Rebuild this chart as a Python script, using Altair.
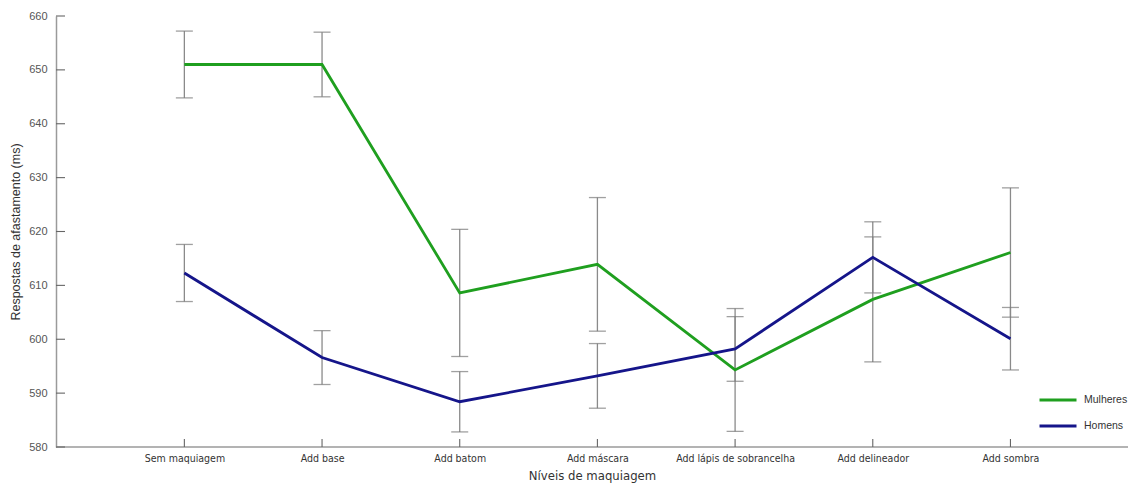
import altair as alt
import pandas as pd

categories = ["Sem maquiagem", "Add base", "Add batom", "Add máscara",
              "Add lápis de sobrancelha", "Add delineador", "Add sombra"]
series = ["Mulheres", "Homens"]
mulheres_mean = [651.0, 651.0, 608.6, 613.9, 594.3, 607.4, 616.1]
mulheres_err = [6.2, 6.0, 11.8, 12.4, 11.4, 11.6, 12.0]
homens_mean = [612.3, 596.6, 588.4, 593.2, 598.2, 615.2, 600.1]
homens_err = [5.3, 5.0, 5.6, 6.0, 6.0, 6.6, 5.8]
y_ticks = [580, 590, 600, 610, 620, 630, 640, 650, 660]

rows = []
for name, means, errs in [("Mulheres", mulheres_mean, mulheres_err),
                          ("Homens", homens_mean, homens_err)]:
    for c, m, e in zip(categories, means, errs):
        rows.append({"cat": c, "serie": name, "mean": m, "lo": m - e, "hi": m + e})
df = pd.DataFrame(rows)
tick_df = pd.DataFrame({"v": y_ticks})
cat_df = pd.DataFrame({"cat": categories})

W, H = 1072, 431
FONT = "Liberation Sans, Arial, sans-serif"
NARROW = "'DejaVu Sans Condensed', 'Liberation Sans Narrow', 'Liberation Sans', sans-serif"

xscale = alt.Scale(type="point", domain=categories, padding=0.893, align=0.522)
yscale = alt.Scale(domain=[580, 660], nice=False, zero=False)

x_axis = alt.Axis(labelAngle=0, ticks=False, domain=False,
                  labelFont=NARROW, labelFontSize=10.5, labelColor="#333",
                  labelPadding=6, title="Níveis de maquiagem", titleFont=NARROW,
                  titleFontSize=13, titleFontWeight="normal", titleColor="#333",
                  titlePadding=6)
y_axis = alt.Axis(values=y_ticks, ticks=False, domainColor="#9a9a9a", domainWidth=1.5,
                  labelFont=FONT, labelFontSize=11, labelColor="#555", labelPadding=9,
                  grid=False, title="Respostas de afastamento (ms)", titleFont=FONT,
                  titleFontSize=12.5, titleFontWeight="normal", titleColor="#333",
                  titlePadding=6)

base = alt.Chart(df)

err_rule = base.mark_rule(color="#8a8a8a", strokeWidth=1.3).encode(
    x=alt.X("cat:N", scale=xscale, axis=x_axis),
    y=alt.Y("lo:Q", scale=yscale, axis=y_axis),
    y2="hi:Q",
)
cap_lo = base.mark_tick(color="#777", thickness=1.3, size=17).encode(
    x=alt.X("cat:N", scale=xscale), y=alt.Y("lo:Q", scale=yscale))
cap_hi = base.mark_tick(color="#777", thickness=1.3, size=17).encode(
    x=alt.X("cat:N", scale=xscale), y=alt.Y("hi:Q", scale=yscale))

lines = base.mark_line(strokeWidth=2.8).encode(
    x=alt.X("cat:N", scale=xscale),
    y=alt.Y("mean:Q", scale=yscale),
    color=alt.Color("serie:N",
                    scale=alt.Scale(domain=series, range=["#1f9f1f", "#15158a"]),
                    legend=alt.Legend(title=None, orient="none", legendX=982, legendY=364,
                                      symbolType="stroke", symbolSize=1369,
                                      symbolStrokeWidth=2.8, labelFont=FONT,
                                      labelFontSize=10.5, labelColor="#333",
                                      labelOffset=6, rowPadding=-16)),
)

y_ticks_layer = alt.Chart(tick_df).mark_rule(color="#666", strokeWidth=1.1).encode(
    y=alt.Y("v:Q", scale=yscale), x=alt.value(0), x2=alt.value(9))
x_ticks_layer = alt.Chart(cat_df).mark_rule(color="#666", strokeWidth=1.1).encode(
    x=alt.X("cat:N", scale=xscale), y=alt.value(H), y2=alt.value(H - 8))
x_baseline = alt.Chart(tick_df).transform_filter(alt.datum.v == 580).mark_rule(
    color="#9a9a9a", strokeWidth=1.5).encode(
    y=alt.Y("v:Q", scale=yscale), x=alt.value(0), x2=alt.value(W))

chart = alt.layer(x_baseline, err_rule, cap_lo, cap_hi, y_ticks_layer, x_ticks_layer,
                  lines).properties(
    width=W, height=H, background="white",
    padding={"left": 1, "top": 2, "right": 0, "bottom": 0}
).configure_view(stroke=None)

chart.save("out.html", embed_options={"renderer": "svg", "actions": False})
